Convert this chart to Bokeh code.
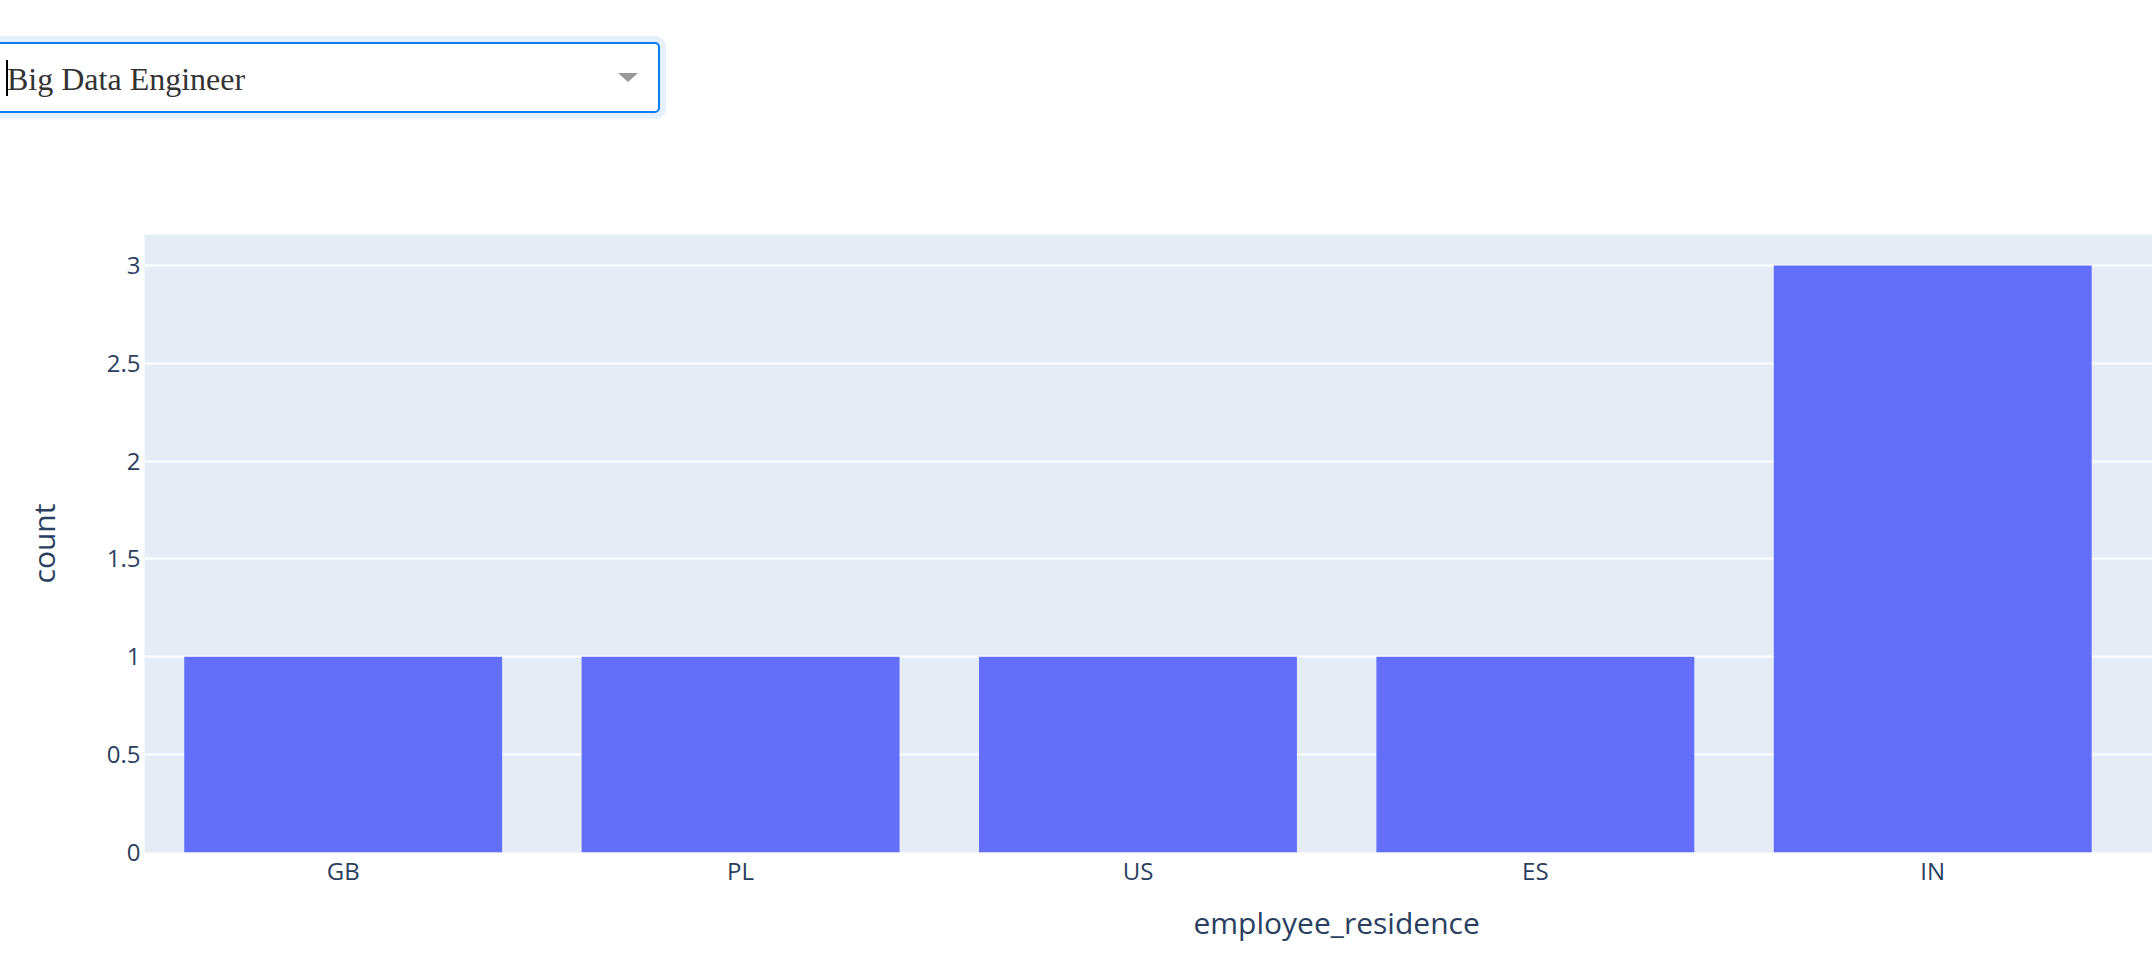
from bokeh.plotting import figure
from bokeh.models import ColumnDataSource, Range1d, FixedTicker, Div, Title
from bokeh.layouts import column
from bokeh.embed import file_html
from bokeh.resources import INLINE

# ---- data ----
selected_job = "Big Data Engineer"
categories = ["GB", "PL", "US", "ES", "IN"]
counts = [1, 1, 1, 1, 3]
y_ticks = [0, 0.5, 1, 1.5, 2, 2.5, 3]
y_tick_labels = ["0", "0.5", "1", "1.5", "2", "2.5", "3"]
x_title = "employee_residence"
y_title = "count"

# ---- layout / style constants ----
W, H = 2152, 963
DIV_H = 130
FONT = "Open Sans"
TXT = "#2a3f5f"

dropdown_html = f"""
<div style="position:relative;width:{W}px;height:{DIV_H}px;overflow:hidden;background:#ffffff;">
  <div style="position:absolute;left:-10px;top:42px;width:670px;height:71px;box-sizing:border-box;
              border:2px solid #0a7df7;border-radius:5px;box-shadow:0 0 0 6px #e5f0fd;background:#ffffff;"></div>
  <div style="position:absolute;left:7px;top:63px;font-family:'Liberation Serif','Times New Roman',serif;
              font-size:32px;line-height:32px;color:#333333;white-space:nowrap;">{selected_job}</div>
  <div style="position:absolute;left:6px;top:60px;width:2px;height:36px;background:#000000;"></div>
  <div style="position:absolute;left:618px;top:73px;width:0;height:0;border-left:10px solid transparent;
              border-right:10px solid transparent;border-top:9px solid #999999;"></div>
</div>
"""
div = Div(text=dropdown_html, width=W, height=DIV_H, margin=0)

x_pos = list(range(len(categories)))
src = ColumnDataSource(dict(x=x_pos, top=counts, cat=categories))

p = figure(width=W, height=H - DIV_H,
           x_range=Range1d(-0.5, 4.553), y_range=Range1d(0, 3.158),
           output_backend="svg", toolbar_location=None,
           min_border_left=144, min_border_right=0, min_border_top=104, min_border_bottom=111,
           background_fill_color="#E5ECF6", border_fill_color="white",
           outline_line_color=None, margin=0)

p.vbar(x="x", top="top", bottom=0, width=0.8, source=src,
       fill_color="#636EFA", line_color=None)

# x axis
p.xaxis.ticker = FixedTicker(ticks=x_pos)
p.xaxis.major_label_overrides = {i: c for i, c in zip(x_pos, categories)}
p.xaxis.major_label_text_font = FONT
p.xaxis.major_label_text_font_size = "24px"
p.xaxis.major_label_text_color = TXT
p.xaxis.major_label_standoff = 1
p.xaxis.major_tick_in = 0
p.xaxis.major_tick_out = 0
p.xaxis.minor_tick_in = 0
p.xaxis.minor_tick_out = 0
p.xaxis.axis_line_color = None

# y axis
p.yaxis.ticker = FixedTicker(ticks=y_ticks)
p.yaxis.major_label_overrides = {t: l for t, l in zip(y_ticks, y_tick_labels)}
p.yaxis.major_label_text_font = FONT
p.yaxis.major_label_text_font_size = "24px"
p.yaxis.major_label_text_color = TXT
p.yaxis.major_label_standoff = 4
p.yaxis.major_tick_in = 0
p.yaxis.major_tick_out = 0
p.yaxis.minor_tick_in = 0
p.yaxis.minor_tick_out = 0
p.yaxis.axis_line_color = None
p.yaxis.axis_label = y_title
p.yaxis.axis_label_text_font = FONT
p.yaxis.axis_label_text_font_size = "30px"
p.yaxis.axis_label_text_font_style = "normal"
p.yaxis.axis_label_text_color = TXT
p.yaxis.axis_label_standoff = 40

# grid
p.xgrid.grid_line_color = None
p.ygrid.ticker = FixedTicker(ticks=y_ticks)
p.ygrid.grid_line_color = "white"
p.ygrid.grid_line_width = 2

# x axis title (centred on the full, wider plot area in the reference)
p.add_layout(Title(text=x_title, align="left", offset=1049, text_font=FONT,
                   text_font_size="30px", text_font_style="normal",
                   text_color=TXT, standoff=20), "below")

layout = column(div, p, spacing=0, margin=0)
open("out.html", "w").write(file_html(layout, INLINE))
